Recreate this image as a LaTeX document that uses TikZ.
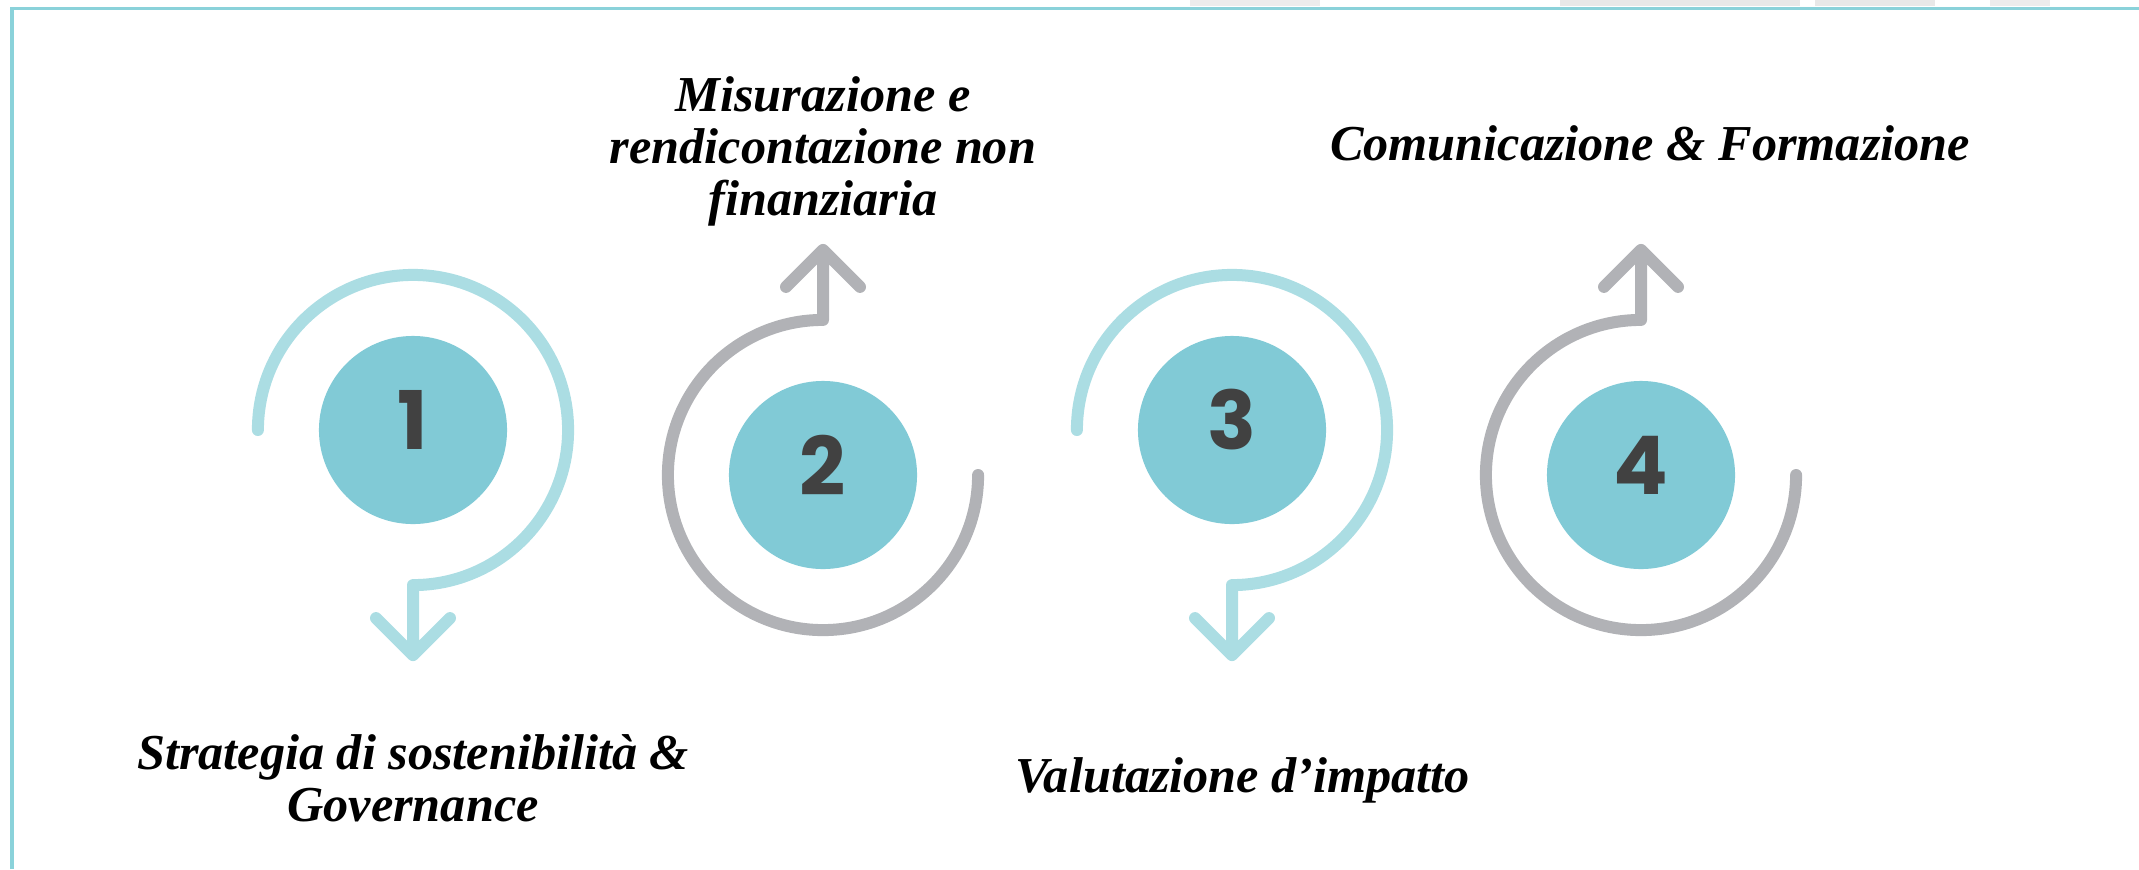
\documentclass[tikz,border=0pt]{standalone}
\usepackage{fontspec}
\newfontfamily\numfont{Poppins}
\newfontfamily\lblfont{Liberation Serif}
\usetikzlibrary{positioning}
\definecolor{frameteal}{HTML}{8AD2DA}
\definecolor{lightteal}{HTML}{ABDDE3}
\definecolor{dotteal}{HTML}{81CAD6}
\definecolor{ringgray}{HTML}{B1B2B6}
\definecolor{numgray}{HTML}{414141}

\begin{document}
\begin{tikzpicture}[x=0.01cm,y=0.01cm,
      dot/.style={circle,fill=dotteal,minimum size=1.88cm,inner sep=0pt},
      num/.style={text=numgray,inner sep=0pt,
        font=\numfont\bfseries\fontsize{23}{23}\selectfont},
      ring/.style={line width=0.12cm,line cap=round,line join=round},
      lbl/.style={align=center,inner sep=0pt,
        font=\lblfont\bfseries\itshape\fontsize{14.3}{14.8}\selectfont}]

    \useasboundingbox (0,0) rectangle (2139,-869);

    % frame and the cut strip on top
    \fill[gray!15] (1190,0) rectangle (1320,-6);
    \fill[gray!18] (1560,0) rectangle (1800,-6);
    \fill[gray!18] (1815,0) rectangle (1935,-6);
    \fill[gray!15] (1990,0) rectangle (2050,-6);
    \draw[frameteal,line width=0.03cm] (12,-869) -- (12,-8) -- (2139,-8);

    % steps
    \node[dot] (c1) at (413,-430) {};
    \node[dot] (c2) at (823,-475) {};
    \node[dot] (c3) at (1232,-430) {};
    \node[dot] (c4) at (1641,-475) {};

    \node[num] (n1) at ([yshift=0.1cm]c1.center) {1};
    \node[num] (n2) at ([yshift=0.1cm]c2.center) {2};
    \node[num] (n3) at ([yshift=0.1cm]c3.center) {3};
    \node[num] (n4) at ([yshift=0.1cm]c4.center) {4};

    \draw[ring,lightteal] ([xshift=-1.55cm]c1.center)
      arc[start angle=180,end angle=-90,radius=1.55cm] -- ++(0,-70)
      coordinate (t1) ++(-37,37) -- (t1) -- ++(37,37);
    \draw[ring,ringgray] ([xshift=1.55cm]c2.center)
      arc[start angle=0,end angle=-270,radius=1.55cm] -- ++(0,70)
      coordinate (t2) ++(-37,-37) -- (t2) -- ++(37,-37);
    \draw[ring,lightteal] ([xshift=-1.55cm]c3.center)
      arc[start angle=180,end angle=-90,radius=1.55cm] -- ++(0,-70)
      coordinate (t3) ++(-37,37) -- (t3) -- ++(37,37);
    \draw[ring,ringgray] ([xshift=1.55cm]c4.center)
      arc[start angle=0,end angle=-270,radius=1.55cm] -- ++(0,70)
      coordinate (t4) ++(-37,-37) -- (t4) -- ++(37,-37);

    % labels
    \node[lbl] (l1) at (413,-778) {Strategia di sostenibilità \&\\Governance};
    \node[lbl] (l2) at (823,-151) {Misurazione e\\rendicontazione non\\finanziaria};
    \node[lbl] (l3) at (1243,-780) {Valutazione d’impatto};
    \node[lbl] (l4) at (1650,-143) {Comunicazione \& Formazione};

\end{tikzpicture}
\end{document}
